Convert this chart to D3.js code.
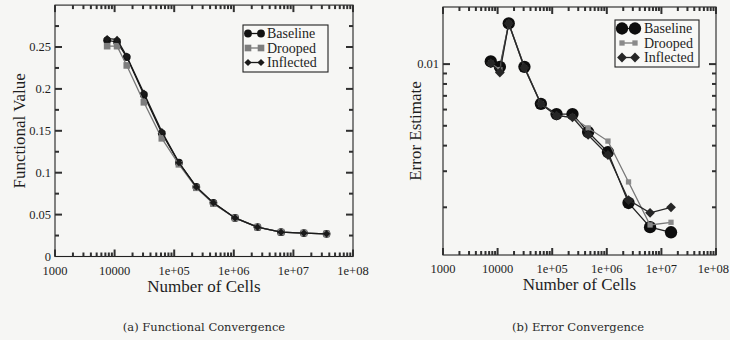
<!DOCTYPE html>
<html>
<head>
<meta charset="utf-8">
<script src="https://cdn.jsdelivr.net/npm/d3@7"></script>
<style>
  html, body { margin: 0; padding: 0; background: #f6f6f4; }
  svg { display: block; }
</style>
</head>
<body>
<svg id="chart" width="730" height="340"></svg>
<script>
// Mesh sizes (number of cells) for each refinement level
const cells = [7500, 11000, 16000, 31000, 62000, 120000, 235000, 455000, 1.05e6, 2.5e6, 6.2e6, 1.5e7, 3.6e7];

// Functional value on each mesh
const funcBaseline  = [0.258, 0.256, 0.238, 0.193, 0.147, 0.112, 0.083, 0.064, 0.046, 0.035, 0.029, 0.028, 0.027];
const funcDrooped   = [0.251, 0.251, 0.228, 0.184, 0.141, 0.110, 0.082, 0.063, 0.046, 0.035, 0.029, 0.028, 0.027];
const funcInflected = [0.260, 0.259, 0.239, 0.195, 0.149, 0.112, 0.083, 0.064, 0.046, 0.035, 0.029, 0.028, 0.027];

// Error estimate (available up to the second-finest mesh)
const errBaseline  = [0.0103, 0.0097, 0.0158, 0.0097, 0.0064, 0.0057, 0.0057, 0.00466, 0.00372, 0.0021, 0.0016, 0.00151];
const errDrooped   = [0.0101, 0.0094, 0.0158, 0.0096, 0.0064, 0.0056, 0.0055, 0.00488, 0.00421, 0.00266, 0.00164, 0.00169];
const errInflected = [0.0101, 0.0091, 0.0158, 0.0096, 0.0064, 0.0056, 0.0055, 0.00451, 0.0036, 0.00217, 0.00188, 0.0020];

const seriesNames = ["Baseline", "Drooped", "Inflected"];
const xTickValues = [1e3, 1e4, 1e5, 1e6, 1e7, 1e8];
const xTickLabels = ["1000", "10000", "1e+05", "1e+06", "1e+07", "1e+08"];
const funcTickValues = [0, 0.05, 0.1, 0.15, 0.2, 0.25];
const funcTickLabels = ["0", "0.05", "0.1", "0.15", "0.2", "0.25"];
const errTickValues = [0.01];
const errTickLabels = ["0.01"];

const FONT = "'Liberation Serif', 'Times New Roman', 'DejaVu Serif', serif";
const CAPTION_FONT = "'DejaVu Serif', serif";
const INK = "#1e1e1e";
const svg = d3.select("#chart");

function markerPath(kind, size) {
  if (kind === "circle") return d3.symbol(d3.symbolCircle, size)();
  // squares and diamonds share the same path; diamonds are rotated by 45 degrees
  return d3.symbol(d3.symbolSquare, size)();
}

function label(g, x, y, txt, size, anchor) {
  return g.append("text")
    .attr("x", x).attr("y", y)
    .attr("text-anchor", anchor || "middle")
    .attr("font-family", FONT).attr("font-size", size)
    .attr("fill", INK).text(txt);
}

function drawPanel(cfg) {
  const g = svg.append("g");
  const x = d3.scaleLog().domain([1e3, 1e8]).range([cfg.left, cfg.right]);
  const y = cfg.yScale;
  const top = cfg.top, bottom = cfg.bottom;

  // Frame
  g.append("rect")
    .attr("x", cfg.left).attr("y", top)
    .attr("width", cfg.right - cfg.left).attr("height", bottom - top)
    .attr("fill", "none").attr("stroke", "#222").attr("stroke-width", 1.1);

  // Tick marks as thin filled bars; majors at decades, minors at 2..9, all pointing inward
  const xMinor = [];
  for (let e = 3; e < 8; e++) for (let m = 2; m <= 9; m++) xMinor.push(m * Math.pow(10, e));
  const xt = xTickValues.map(v => ({ v, len: 7 })).concat(xMinor.map(v => ({ v, len: 4 })));
  const yt = cfg.yMajor.map(v => ({ v, len: 7 })).concat(cfg.yMinor.map(v => ({ v, len: 4 })));
  const tw = 2;
  const tg = g.append("g").attr("fill", "#303030");
  xt.forEach(t => {
    tg.append("rect").attr("x", x(t.v) - tw / 2).attr("y", bottom - t.len).attr("width", tw).attr("height", t.len);
    tg.append("rect").attr("x", x(t.v) - tw / 2).attr("y", top).attr("width", tw).attr("height", t.len);
  });
  yt.forEach(t => {
    tg.append("rect").attr("x", cfg.left).attr("y", y(t.v) - tw / 2).attr("width", t.len).attr("height", tw);
    tg.append("rect").attr("x", cfg.right - t.len).attr("y", y(t.v) - tw / 2).attr("width", t.len).attr("height", tw);
  });

  // Tick labels (the last one is kept inside the page edge)
  xTickValues.forEach((v, i) => {
    const t = label(g, x(v), bottom + 18, xTickLabels[i], 12.5);
    const bb = t.node().getBBox();
    if (bb.x + bb.width > 729) t.attr("x", x(v) - (bb.x + bb.width - 729));
  });
  cfg.yLabelValues.forEach((v, i) => {
    label(g, cfg.left - 4, y(v) + 4, cfg.yLabelTexts[i], 12.5, "end");
  });

  // Axis titles
  label(g, (cfg.left + cfg.right) / 2, bottom + 35, "Number of Cells", 17);
  label(g, 0, 0, cfg.yTitle, 17)
    .attr("transform", `translate(${cfg.yTitleX},${(top + bottom) / 2}) rotate(-90)`);

  // Caption
  label(g, cfg.captionX, 331, cfg.caption, 11.5)
    .attr("font-family", CAPTION_FONT).attr("fill", "#2a2a2a");

  // Series
  const line = d3.line().x(d => x(d[0])).y(d => y(d[1]));
  cfg.series.forEach(s => {
    const pts = s.values.map((v, i) => [cells[i], v]);
    g.append("path").datum(pts).attr("d", line)
      .attr("fill", "none").attr("stroke", s.stroke).attr("stroke-width", 1.3);
    g.selectAll(null).data(pts).enter().append("path")
      .attr("d", markerPath(s.kind, s.size))
      .attr("transform", d => `translate(${x(d[0])},${y(d[1])})${s.kind === "diamond" ? " rotate(45)" : ""}`)
      .attr("fill", s.fill);
  });

  // Legend
  const lg = g.append("g");
  lg.append("rect").attr("x", cfg.legend.x).attr("y", cfg.legend.y)
    .attr("width", cfg.legend.w).attr("height", cfg.legend.h)
    .attr("fill", "#f8f8f6").attr("stroke", "#222").attr("stroke-width", 1.1);
  cfg.series.forEach((s, i) => {
    const ly = cfg.legend.y + 8.5 + i * 14.5;
    const x0 = cfg.legend.x + cfg.legend.sx0, x1 = cfg.legend.x + cfg.legend.sx1;
    lg.append("line").attr("x1", x0).attr("x2", x1).attr("y1", ly).attr("y2", ly)
      .attr("stroke", s.stroke).attr("stroke-width", 1.3);
    [x0, x1].forEach(px => {
      lg.append("path").attr("d", markerPath(s.kind, s.size))
        .attr("transform", `translate(${px},${ly})${s.kind === "diamond" ? " rotate(45)" : ""}`)
        .attr("fill", s.fill);
    });
    label(lg, cfg.legend.x + cfg.legend.tx, ly + 4.5, seriesNames[i], 14, "start");
  });
}

// Left panel: functional value
const yFunc = d3.scaleLinear().domain([0, 0.3]).range([256.5, 5.1]);
drawPanel({
  left: 55, right: 353, top: 5.1, bottom: 256.5,
  yScale: yFunc,
  yMajor: funcTickValues.slice(1),
  yMinor: [0.025, 0.075, 0.125, 0.175, 0.225, 0.275],
  yLabelValues: funcTickValues, yLabelTexts: funcTickLabels,
  yTitle: "Functional Value", yTitleX: 25,
  caption: "(a) Functional Convergence", captionX: 204,
  legend: { x: 243, y: 25, w: 85, h: 47, sx0: 5, sx1: 18, tx: 24 },
  series: [
    { values: funcBaseline,  kind: "circle",  size: 48, fill: "#111", stroke: "#111" },
    { values: funcDrooped,   kind: "square",  size: 44, fill: "#7d7d7d", stroke: "#777" },
    { values: funcInflected, kind: "diamond", size: 26, fill: "#1a1a1a", stroke: "#1a1a1a" }
  ]
});

// Right panel: error estimate on a log axis
const yErr = d3.scaleLog().domain([0.00117, 0.019]).range([255, 7]);
drawPanel({
  left: 443, right: 716, top: 7, bottom: 255,
  yScale: yErr,
  yMajor: errTickValues,
  yMinor: [0.002, 0.003, 0.004, 0.005, 0.006, 0.007, 0.008, 0.009],
  yLabelValues: errTickValues, yLabelTexts: errTickLabels,
  yTitle: "Error Estimate", yTitleX: 421,
  caption: "(b) Error Convergence", captionX: 578,
  legend: { x: 615, y: 20, w: 84, h: 47, sx0: 7, sx1: 20, tx: 29 },
  series: [
    { values: errBaseline,  kind: "circle",  size: 120, fill: "#0d0d0d", stroke: "#222" },
    { values: errDrooped,   kind: "square",  size: 28, fill: "#8a8a8a", stroke: "#777" },
    { values: errInflected, kind: "diamond", size: 48, fill: "#262626", stroke: "#262626" }
  ]
});
</script>
</body>
</html>
